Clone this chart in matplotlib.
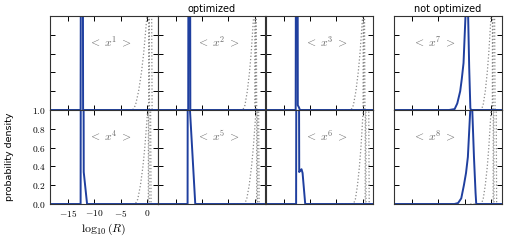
import matplotlib
matplotlib.use("Agg")
import matplotlib.pyplot as plt

plt.rcParams['mathtext.fontset'] = 'cm'

# panel labels, in drawing order: top row then bottom row
labels = ['1', '2', '3', '7', '4', '5', '6', '8']

x_ticks = [-15, -10, -5, 0]
x_ticklabels = ['$-15$', '$-10$', '$-5$', '$0$']
y_ticks = [0.0, 0.2, 0.4, 0.6, 0.8, 1.0]
y_ticklabels = ['$0.0$', '$0.2$', '$0.4$', '$0.6$', '$0.8$', '$1.0$']

# blue density curves
blue_x = {
    '1': [-18.4, -12.62, -12.45, -12.3, -12.15, 1.9],
    '2': [-18.4, -12.6, -12.45, -12.35, -12.2, 1.9],
    '3': [-18.4, -12.7, -12.55, -12.4, -12.3, -12.1, -11.9, 1.9],
    '7': [-18.4, -8.0, -6.95, -6.45, -5.9, -5.6, -5.27, -4.9, -4.65, -4.4, -4.2, -3.98, -3.85, 1.9],
    '4': [-18.4, -12.62, -12.5, -12.2, -12.03, -11.4, 1.9],
    '5': [-18.4, -12.72, -12.6, -12.45, -12.27, -11.27, 1.9],
    '6': [-18.4, -12.62, -12.45, -12.3, -12.03, -11.8, -11.6, -11.4, -10.9, 1.9],
    '8': [-18.4, -7.0, -6.3, -5.7, -5.2, -4.8, -4.45, -4.0, -3.82, -3.62, -3.3, -3.0, -2.87, 1.9],
}
blue_y = {
    '1': [0, 0, 6, 6, 0, 0],
    '2': [0, 0, 6, 6, 0, 0],
    '3': [0, 0, 6, 6, 0.05, 0.03, 0, 0],
    '7': [0, 0, 0.01, 0.07, 0.2, 0.33, 0.5, 1.0, 1.4, 1.0, 0.45, 0.02, 0, 0],
    '4': [0, 0, 6, 6, 0.34, 0, 0],
    '5': [0, 0, 6, 6, 1.0, 0, 0],
    '6': [0, 0, 6, 6, 0.34, 0.36, 0.37, 0.33, 0, 0],
    '8': [0, 0, 0.01, 0.06, 0.2, 0.33, 0.5, 1.0, 1.3, 1.0, 0.5, 0.12, 0, 0],
}

# grey dotted reference densities near log10(R) = 0
ref_x = {
    '1': [-4.0, -2.80, -2.26, -1.67, -1.13, -0.72, -0.40, -0.10, 0.26, 0.80, 0.88, 2.0],
    '2': [-4.0, -2.30, -1.89, -1.44, -1.03, -0.72, -0.48, -0.25, 0.00, 0.25, 0.33, 2.0],
    '3': [-4.0, -2.25, -1.81, -1.33, -0.89, -0.56, -0.30, -0.06, 0.08, 0.30, 0.38, 2.0],
    '7': [-4.0, -1.95, -1.58, -1.16, -0.79, -0.51, -0.29, -0.08, 0.20, 0.60, 0.68, 2.0],
    '4': [-4.0, -2.30, -1.83, -1.32, -0.85, -0.50, -0.22, 0.04, 0.26, 0.60, 0.68, 2.0],
    '5': [-4.0, -2.00, -1.56, -1.08, -0.64, -0.31, -0.04, 0.20, 0.40, 0.70, 0.78, 2.0],
    '6': [-4.0, -1.80, -1.43, -1.03, -0.66, -0.38, -0.16, 0.04, 0.46, 1.10, 1.18, 2.0],
    '8': [-4.0, -1.95, -1.57, -1.16, -0.78, -0.50, -0.28, -0.07, 0.32, 0.90, 0.98, 2.0],
}
ref_y = [0, 0, 0.05, 0.2, 0.4, 0.6, 0.8, 1.0, 2.5, 1.0, 0, 0]
spike_x = {
    '1': [0.22, 0.30, 0.38],
    '2': [-0.03, 0.05, 0.13],
    '3': [0.02, 0.10, 0.18],
    '7': [0.17, 0.25, 0.33],
    '4': [0.17, 0.25, 0.33],
    '5': [0.32, 0.40, 0.48],
    '6': [0.42, 0.50, 0.58],
    '8': [0.32, 0.40, 0.48],
}
spike_y = [0, 3.0, 0]

blue = '#1f3f9f'
grey = '#8a8a8a'

fig = plt.figure(figsize=(5.12, 2.41), dpi=100)

col_left = [50, 157.5, 265.5, 394]
col_w = 107.5
row_bottom = [110, 204]
row_h = 94
W, H = 512, 241

for i, lab in enumerate(labels):
    row = i // 4
    col = i % 4
    left = col_left[col] / W
    bottom = (H - row_bottom[row]) / H
    ax = fig.add_axes([left, bottom, col_w / W, row_h / H])

    ax.plot(ref_x[lab], ref_y, ls=':', color=grey, lw=0.9)
    ax.plot(spike_x[lab], spike_y, ls=':', color=grey, lw=0.9)
    ax.plot(blue_x[lab], blue_y[lab], color=blue, lw=1.4)

    ax.set_xlim(-18.4, 1.9)
    ax.set_ylim(0, 1)
    ax.set_xticks(x_ticks)
    ax.set_yticks(y_ticks)
    ax.tick_params(direction='in', top=True, right=True, length=3.5,
                   width=0.7, labelsize=6.8, pad=3)
    for s in ax.spines.values():
        s.set_linewidth(0.8)
        s.set_color('#333333')

    if row == 1 and col == 0:
        ax.set_xticklabels(x_ticklabels)
        ax.set_yticklabels(y_ticklabels)
        ax.set_ylabel('probability density', fontsize=6.8, labelpad=13)
        ax.set_xlabel(r'$\log_{10}(R)$', fontsize=8.5, labelpad=2)
    else:
        ax.set_xticklabels([])
        ax.set_yticklabels([])

    tx = 0.37 if col == 3 else 0.56
    ax.text(tx, 0.72, r'$<\;x^{%s}\;>$' % lab, transform=ax.transAxes,
            ha='center', va='center', fontsize=8.5, color='#6a6a6a')

fig.text((50 + 373) / 2 / W, 1 - 9 / H, 'optimized', ha='center', va='center', fontsize=7)
fig.text((394 + 501.5) / 2 / W, 1 - 9 / H, 'not optimized', ha='center', va='center', fontsize=7)

fig.savefig('out.png', dpi=100)
